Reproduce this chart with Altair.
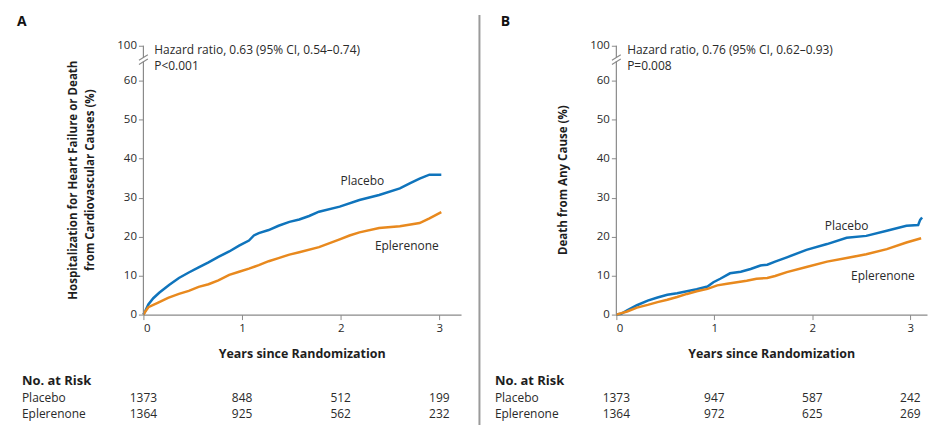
import altair as alt
import pandas as pd

# ---------------- data ----------------
groups = ["Placebo", "Eplerenone"]
colors = ["#0F74BC", "#E8891E"]

# Panel A: hospitalization for HF or CV death (%)
a_placebo_t = [0, 0.02, 0.05, 0.10, 0.16, 0.26, 0.36, 0.46, 0.56, 0.66, 0.76, 0.87, 0.97, 1.07, 1.12,
               1.17, 1.27, 1.37, 1.48, 1.58, 1.68, 1.78, 1.99, 2.19, 2.39, 2.60, 2.70, 2.80, 2.90, 3.02]
a_placebo_v = [0, 1.0, 2.6, 4.2, 5.6, 7.6, 9.4, 10.8, 12.1, 13.4, 14.8, 16.2, 17.7, 19.0, 20.3,
               20.9, 21.7, 22.8, 23.8, 24.4, 25.3, 26.4, 27.7, 29.4, 30.7, 32.4, 33.7, 34.9, 35.9, 35.9]
a_eple_t = [0, 0.02, 0.05, 0.15, 0.25, 0.36, 0.46, 0.56, 0.66, 0.76, 0.87, 0.97, 1.07, 1.17, 1.27,
            1.37, 1.48, 1.58, 1.78, 1.99, 2.09, 2.19, 2.39, 2.60, 2.80, 2.90, 3.02]
a_eple_v = [0, 0.8, 1.9, 3.1, 4.3, 5.3, 6.1, 7.1, 7.8, 8.8, 10.2, 11.0, 11.8, 12.7, 13.7,
            14.5, 15.4, 16.0, 17.3, 19.3, 20.3, 21.1, 22.2, 22.7, 23.5, 24.7, 26.3]

# Panel B: death from any cause (%)
b_placebo_t = [0, 0.05, 0.11, 0.21, 0.32, 0.42, 0.52, 0.62, 0.72, 0.82, 0.93, 0.99, 1.06, 1.16, 1.27,
               1.37, 1.47, 1.54, 1.62, 1.74, 1.94, 2.15, 2.35, 2.55, 2.76, 2.96, 3.08, 3.10, 3.12]
b_placebo_v = [0, 0.2, 1.1, 2.4, 3.6, 4.4, 5.1, 5.5, 6.0, 6.5, 7.2, 8.3, 9.2, 10.6, 11.0,
               11.7, 12.6, 12.8, 13.6, 14.7, 16.6, 18.1, 19.7, 20.2, 21.5, 22.8, 23.0, 24.3, 24.9]
b_eple_t = [0, 0.11, 0.21, 0.32, 0.42, 0.52, 0.62, 0.72, 0.82, 0.93, 1.03, 1.13, 1.23, 1.33, 1.43,
            1.54, 1.62, 1.74, 1.94, 2.15, 2.35, 2.55, 2.76, 2.96, 3.11]
b_eple_v = [0, 0.8, 1.8, 2.5, 3.2, 3.8, 4.5, 5.3, 6.0, 6.6, 7.5, 7.9, 8.3, 8.7, 9.2,
            9.4, 9.9, 10.9, 12.2, 13.6, 14.5, 15.5, 16.8, 18.5, 19.6]

risk_years = [0, 1, 2, 3]
a_risk_placebo = [1373, 848, 512, 199]
a_risk_eple = [1364, 925, 562, 232]
b_risk_placebo = [1373, 947, 587, 242]
b_risk_eple = [1364, 972, 625, 269]

y_tick_values = [0, 10, 20, 30, 40, 50, 60, 69]   # top tick is labelled 100 (broken axis)
x_tick_values = [0, 1, 2, 3]

FONT = "Open Sans"
TXT = "#2a2a2a"
AX = "#8a8a8a"


def panel(letter, pl_t, pl_v, ep_t, ep_v, xmax, width, hr_text, p_text,
          ytitle_lines, lab_pl, lab_ep, risk_pl, risk_ep, divider=False):
    curves = pd.DataFrame(
        {"year": pl_t + ep_t,
         "pct": pl_v + ep_v,
         "group": ["Placebo"] * len(pl_t) + ["Eplerenone"] * len(ep_t)}
    )
    xs = alt.Scale(domain=[0, xmax], nice=False, zero=False)
    ys = alt.Scale(domain=[0, 69], nice=False)
    xax = alt.Axis(values=x_tick_values, format="d", title=None, grid=False,
                   domainColor=AX, tickColor=AX, tickSize=5, domainWidth=1.2,
                   labelFont=FONT, labelFontSize=11.5, labelColor=TXT, labelPadding=3)
    yax = alt.Axis(values=y_tick_values, title=None, grid=False, domain=False,
                   tickColor=AX, tickSize=5, labelFont=FONT, labelFontSize=11.5,
                   labelColor=TXT, labelPadding=2, labelOverlap=False,
                   labelExpr="datum.value == 69 ? '100' : datum.label")

    def X(f):
        return alt.X(f, scale=xs, axis=xax)

    def Y(f):
        return alt.Y(f, scale=ys, axis=yax)

    line = alt.Chart(curves).mark_line(strokeWidth=2.5, interpolate="linear").encode(
        x=X("year:Q"), y=Y("pct:Q"),
        color=alt.Color("group:N", scale=alt.Scale(domain=groups, range=colors), legend=None),
    )

    # broken y axis line
    yaxis_df = pd.DataFrame({"x": [0, 0], "y": [0, 65.9], "y2": [65.0, 69]})
    yaxis = alt.Chart(yaxis_df).mark_rule(color=AX, strokeWidth=1.2).encode(
        x=X("x:Q"), y=Y("y:Q"), y2="y2:Q")
    brk_df = pd.DataFrame({"x": [-0.045, -0.045], "x2": [0.045, 0.045],
                           "y": [64.2, 65.3], "y2": [65.6, 66.7]})
    brk = alt.Chart(brk_df).mark_rule(color=AX, strokeWidth=1.1).encode(
        x=X("x:Q"), x2="x2:Q", y=Y("y:Q"), y2="y2:Q")

    ann_df = pd.DataFrame({"x": [0.11, 0.11], "y": [68.0, 63.9], "t": [hr_text, p_text]})
    ann = alt.Chart(ann_df).mark_text(align="left", baseline="middle", font=FONT,
                                      fontSize=12, color=TXT).encode(
        x=X("x:Q"), y=Y("y:Q"), text="t:N")

    lab_df = pd.DataFrame({"x": [lab_pl[0], lab_ep[0]], "y": [lab_pl[1], lab_ep[1]], "t": groups})
    labs = alt.Chart(lab_df).mark_text(align="center", baseline="middle", font=FONT,
                                       fontSize=12, color=TXT).encode(
        x=X("x:Q"), y=Y("y:Q"), text="t:N")

    n = len(ytitle_lines)
    ytitle_layers = []
    for i, t in enumerate(ytitle_lines):
        off = -53 - (n - 1 - i) * 17
        ytitle_layers.append(
            alt.Chart(pd.DataFrame({"t": [t]})).mark_text(
                angle=270, align="center", baseline="middle", font=FONT, fontSize=11.6,
                fontWeight="bold", color="#1e1e1e").encode(
                x=alt.value(off), y=alt.value(135), text="t:N"))

    xt = alt.Chart(pd.DataFrame({"x": [xmax / 2], "t": ["Years since Randomization"]})).mark_text(
        align="center", baseline="middle", font=FONT, fontSize=12.5, fontWeight="bold",
        color="#1e1e1e").encode(x=X("x:Q"), y=alt.value(310), text="t:N")

    head = alt.Chart(pd.DataFrame({"t": ["No. at Risk"]})).mark_text(
        align="left", baseline="middle", font=FONT, fontSize=13, fontWeight="bold",
        color="#1e1e1e").encode(x=alt.value(-122), y=alt.value(337), text="t:N")
    rows = alt.Chart(pd.DataFrame({"t": groups, "yy": [354, 370]})).mark_text(
        align="left", baseline="middle", font=FONT, fontSize=12, color=TXT).encode(
        x=alt.value(-122), y=alt.Y("yy:Q", scale=None), text="t:N")

    risk_df = pd.DataFrame({"year": risk_years * 2, "n": risk_pl + risk_ep,
                            "yy": [354] * 4 + [370] * 4})
    risk = alt.Chart(risk_df).mark_text(align="center", baseline="middle", font=FONT,
                                        fontSize=12, color=TXT).encode(
        x=X("year:Q"), y=alt.Y("yy:Q", scale=None), text="n:Q")

    letter_mark = alt.Chart(pd.DataFrame({"t": [letter]})).mark_text(
        align="left", baseline="middle", font=FONT, fontSize=14, fontWeight="bold",
        color="#111111").encode(x=alt.value(-127 if letter == "A" else -116), y=alt.value(-24),
                                text="t:N")

    layers = [line, yaxis, brk, ann, labs, xt, head, rows, risk, letter_mark] + ytitle_layers
    if divider:
        div = alt.Chart(pd.DataFrame({"t": [0]})).mark_rule(color="#9a9a9a", strokeWidth=2).encode(
            x=alt.value(-137.5), y=alt.value(-31), y2=alt.value(385))
        layers = layers + [div]
    return alt.layer(*layers).properties(width=width, height=270)


panelA = panel("A", a_placebo_t, a_placebo_v, a_eple_t, a_eple_v, 3.22, 319,
               "Hazard ratio, 0.63 (95% CI, 0.54\u20130.74)", "P<0.001",
               ["Hospitalization for Heart Failure or Death", "from Cardiovascular Causes (%)"],
               (2.22, 34.2), (2.67, 17.6), a_risk_placebo, a_risk_eple)
panelB = panel("B", b_placebo_t, b_placebo_v, b_eple_t, b_eple_v, 3.17, 312,
               "Hazard ratio, 0.76 (95% CI, 0.62\u20130.93)", "P=0.008",
               ["Death from Any Cause (%)"],
               (2.35, 22.7), (2.72, 9.9), b_risk_placebo, b_risk_eple, divider=True)

chart = alt.hconcat(panelA, panelB, spacing=17).properties(
    padding={"left": 9, "top": 5, "right": 0, "bottom": 0},
    background="white",
).configure_view(strokeWidth=0)

chart.save("out.html", embed_options={"renderer": "svg", "actions": False})
